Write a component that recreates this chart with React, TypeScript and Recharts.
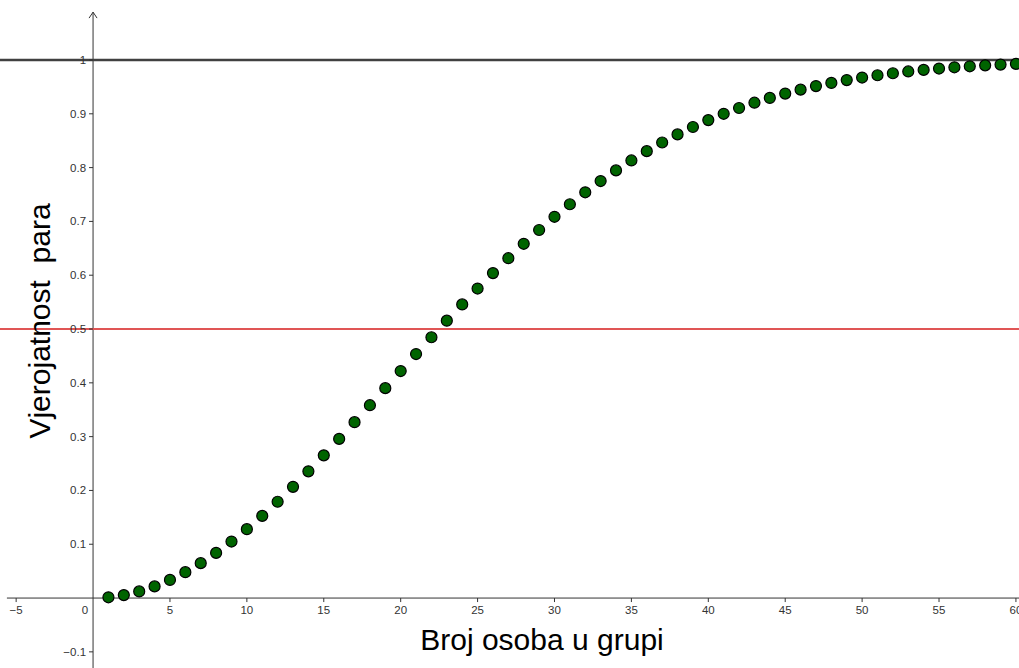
import React from "react";
import {
  ScatterChart,
  Scatter,
  XAxis,
  YAxis,
  ReferenceLine,
  ReferenceDot,
} from "recharts";

// broj osoba u grupi
const groupSizes = [
  1, 2, 3, 4, 5, 6, 7, 8, 9, 10, 11, 12, 13, 14, 15, 16, 17, 18, 19, 20,
  21, 22, 23, 24, 25, 26, 27, 28, 29, 30, 31, 32, 33, 34, 35, 36, 37, 38, 39, 40,
  41, 42, 43, 44, 45, 46, 47, 48, 49, 50, 51, 52, 53, 54, 55, 56, 57, 58, 59, 60,
];

// vjerojatnost da postoji par
const pairProbability = [
  0.0014, 0.0055, 0.0123, 0.0217, 0.0337, 0.0481, 0.0649, 0.0839, 0.105, 0.128,
  0.1527, 0.179, 0.2067, 0.2355, 0.2652, 0.2958, 0.3269, 0.3584, 0.3901, 0.4219,
  0.4535, 0.4847, 0.5155, 0.5457, 0.5752, 0.6039, 0.6316, 0.6584, 0.684, 0.7086,
  0.7319, 0.7541, 0.775, 0.7948, 0.8133, 0.8306, 0.8467, 0.8617, 0.8755, 0.8883,
  0.9, 0.9108, 0.9206, 0.9295, 0.9376, 0.9449, 0.9515, 0.9574, 0.9627, 0.9674,
  0.9716, 0.9754, 0.9787, 0.9816, 0.9841, 0.9864, 0.9883, 0.99, 0.9915, 0.9928,
];

const xTicks = [-5, 0, 5, 10, 15, 20, 25, 30, 35, 40, 45, 50, 55, 60];
const yTicks = [-0.1, 0.1, 0.2, 0.3, 0.4, 0.5, 0.6, 0.7, 0.8, 0.9, 1];

const data = groupSizes.map((n, i) => ({ n, p: pairProbability[i] }));

const AXIS = "#333";
const TICK_FONT = "'Liberation Sans', Arial, sans-serif";

function XTick(value: number) {
  return (props: any) => {
    const { cx, cy } = props;
    const label = value === 0 ? (
      <text x={cx - 8} y={cy + 16} textAnchor="middle" fontSize={11.5} fill={AXIS} fontFamily={TICK_FONT}>
        0
      </text>
    ) : (
      <>
        <line x1={cx} y1={cy} x2={cx} y2={cy + 4} stroke={AXIS} strokeWidth={1} />
        <text x={cx} y={cy + 16} textAnchor="middle" fontSize={11.5} fill={AXIS} fontFamily={TICK_FONT}>
          {value === -5 ? "\u22125" : value}
        </text>
      </>
    );
    return <g>{label}</g>;
  };
}

function YTick(value: number) {
  return (props: any) => {
    const { cx, cy } = props;
    const txt = value < 0 ? "\u2212" + String(-value) : String(value);
    return (
      <g>
        <line x1={cx - 4} y1={cy} x2={cx} y2={cy} stroke={AXIS} strokeWidth={1} />
        <text x={cx - 7} y={cy + 4} textAnchor="end" fontSize={11.5} fill={AXIS} fontFamily={TICK_FONT}>
          {txt}
        </text>
      </g>
    );
  };
}

const Arrow = (props: any) => {
  const { cx, cy } = props;
  return (
    <path
      d={`M ${cx - 4} ${cy + 6} L ${cx} ${cy} L ${cx + 4} ${cy + 6}`}
      fill="none"
      stroke={AXIS}
      strokeWidth={1}
    />
  );
};

const Dot = (props: any) => {
  const { cx, cy } = props;
  return <circle cx={cx} cy={cy} r={5.5} fill="#006400" stroke="#000" strokeWidth={1.2} />;
};

export default function App() {
  return (
    <div
      style={{
        position: "absolute",
        left: 0,
        top: 0,
        width: 1019,
        height: 668,
        background: "#fff",
        overflow: "hidden",
        fontFamily: TICK_FONT,
      }}
    >
      <ScatterChart width={1019} height={668} margin={{ top: 0, right: 0, bottom: 0, left: 0 }}>
        <XAxis type="number" dataKey="n" domain={[-6.05, 60.2]} allowDataOverflow hide />
        <YAxis type="number" dataKey="p" domain={[-0.13, 1.1115]} allowDataOverflow hide />

        <ReferenceLine
          segment={[
            { x: -5.6, y: 0 },
            { x: 60.2, y: 0 },
          ]}
          stroke={AXIS}
          strokeWidth={1}
        />
        <ReferenceLine
          segment={[
            { x: 0, y: -0.13 },
            { x: 0, y: 1.089 },
          ]}
          stroke={AXIS}
          strokeWidth={1}
        />
        <ReferenceDot x={0} y={1.089} r={0} shape={Arrow} />

        {xTicks.map((t) => (
          <ReferenceDot key={`x${t}`} x={t} y={0} r={0} shape={XTick(t)} />
        ))}
        {yTicks.map((t) => (
          <ReferenceDot key={`y${t}`} x={0} y={t} r={0} shape={YTick(t)} />
        ))}

        <ReferenceLine y={1} stroke="#404040" strokeWidth={2.4} />
        <ReferenceLine y={0.5} stroke="#e05555" strokeWidth={2} />

        <Scatter data={data} shape={Dot} isAnimationActive={false} />
      </ScatterChart>

      <div
        style={{
          position: "absolute",
          left: 40,
          top: 321,
          transform: "translate(-50%, -50%) rotate(-90deg)",
          whiteSpace: "pre",
          fontSize: 30,
          color: "#000",
        }}
      >
        {"Vjerojatnost  para"}
      </div>
      <div
        style={{
          position: "absolute",
          left: 542,
          top: 640,
          transform: "translate(-50%, -50%)",
          whiteSpace: "pre",
          fontSize: 30,
          color: "#000",
        }}
      >
        Broj osoba u grupi
      </div>
    </div>
  );
}
